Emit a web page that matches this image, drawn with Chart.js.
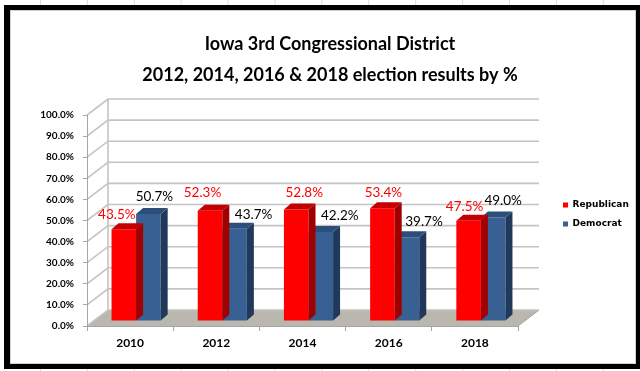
<!DOCTYPE html>
<html>
<head>
<meta charset="utf-8">
<script src="https://cdn.jsdelivr.net/npm/chart.js@4"></script>
<style>
  html, body { margin: 0; padding: 0; background: #fff; }
  canvas { display: block; }
</style>
</head>
<body>
<canvas id="chart" width="640" height="371"></canvas>
<script>
// data
const years = ['2010', '2012', '2014', '2016', '2018'];
const republican = [43.5, 52.3, 52.8, 53.4, 47.5];
const democrat = [50.7, 43.7, 42.2, 39.7, 49.0];
const seriesNames = ['Republican', 'Democrat'];
const titleLines = ['Iowa 3rd Congressional District', '2012, 2014, 2016 & 2018 election results by %'];
const yMax = 100;
const yStep = 10;

// fake 3d look
const WALL_DX = 21, WALL_DY = -16;   // back wall offset from front axis
const SHIFT_X = 6, SHIFT_Y = -5;     // bars sit a bit into the depth
const BAR_DX = 7, BAR_DY = -6;       // bar depth
const frontColors = ['#FF0000', '#386092'];
const topColors = ['#C40000', '#2B4E7A'];
const sideColors = ['#A00000', '#20395A'];
const labelColors = ['#FF0000', '#000000'];
// label nudges (px) from the top of each bar, as placed in the original
const labelNudge = [
  [[-7, -15], [-7.5, -18.5], [8, -17], [1, -16], [-4, -14]],
  [[6, -17], [19, -14], [19, -16], [17, -15.5], [10, -16.5]]
];

function poly(ctx, pts, fill) {
  ctx.beginPath();
  ctx.moveTo(pts[0][0], pts[0][1]);
  for (let i = 1; i < pts.length; i++) ctx.lineTo(pts[i][0], pts[i][1]);
  ctx.closePath();
  ctx.fillStyle = fill;
  ctx.fill();
}

const threeD = {
  id: 'threeD',
  beforeLayout(chart) {
    const lg = chart.legend;
    if (lg && !lg._fixed) {
      const fit = lg.fit;
      lg.fit = function() { fit.call(this); this.width = 122; };
      lg._fixed = true;
    }
  },
  afterLayout(chart) {
    const lg = chart.legend;
    lg.left = 553; lg.right = 640;
    lg.top = 190.5; lg.bottom = 326;
  },
  beforeDraw(chart) {
    const ctx = chart.ctx;
    const y = chart.scales.y;
    const area = chart.chartArea;
    ctx.save();
    // sheet grid lines outside the frame
    ctx.strokeStyle = '#D8DCE3';
    ctx.lineWidth = 1;
    for (let gx = 40.5; gx < 640; gx += 46.9) {
      ctx.beginPath(); ctx.moveTo(gx, 0); ctx.lineTo(gx, 371); ctx.stroke();
    }
    // frame
    ctx.fillStyle = '#000';
    ctx.fillRect(4, 5, 640, 364);
    ctx.fillStyle = '#fff';
    ctx.fillRect(10, 10, 626, 354);
    ctx.strokeStyle = '#D0D0D0';
    ctx.strokeRect(10.5, 10.5, 625, 353);

    const y0 = y.getPixelForValue(0);
    const yTop = y.getPixelForValue(yMax);
    const L = area.left, R = area.right;

    // floor
    poly(ctx, [[L, y0], [R, y0], [R + WALL_DX, y0 + WALL_DY], [L + WALL_DX, y0 + WALL_DY]], '#BAB7AF');
    ctx.strokeStyle = '#A4A19A';
    ctx.lineWidth = 1;
    ctx.beginPath();
    ctx.moveTo(R, y0); ctx.lineTo(R + WALL_DX, y0 + WALL_DY);
    ctx.stroke();

    // back wall and side wall grid lines
    ctx.strokeStyle = '#C4C4C4';
    ctx.lineWidth = 1.6;
    for (let v = 0; v <= yMax; v += yStep) {
      const py = y.getPixelForValue(v);
      ctx.beginPath();
      ctx.moveTo(L, py);
      ctx.lineTo(L + WALL_DX, py + WALL_DY);
      ctx.lineTo(R + WALL_DX, py + WALL_DY);
      ctx.stroke();
    }
    ctx.beginPath();
    ctx.moveTo(L + WALL_DX, yTop + WALL_DY);
    ctx.lineTo(L + WALL_DX, y0 + WALL_DY);
    ctx.stroke();
    ctx.restore();
  },
  beforeDatasetsDraw(chart) {
    chart.ctx.save();
    chart.ctx.translate(SHIFT_X, SHIFT_Y);
  },
  afterDatasetDraw(chart, args) {
    const ctx = chart.ctx;
    const i = args.index;
    chart.getDatasetMeta(i).data.forEach(bar => {
      const { x, y, base, width } = bar.getProps(['x', 'y', 'base', 'width'], true);
      const l = x - width / 2, r = x + width / 2;
      poly(ctx, [[r, y], [r + BAR_DX, y + BAR_DY], [r + BAR_DX, base + BAR_DY], [r, base]], sideColors[i]);
      poly(ctx, [[l, y], [l + BAR_DX, y + BAR_DY], [r + BAR_DX, y + BAR_DY], [r, y]], topColors[i]);
    });
  },
  afterDatasetsDraw(chart) {
    const ctx = chart.ctx;
    ctx.restore();
    ctx.save();
    ctx.font = '13.5px Lato';
    ctx.textAlign = 'center';
    ctx.textBaseline = 'middle';
    chart.data.datasets.forEach((ds, i) => {
      chart.getDatasetMeta(i).data.forEach((bar, j) => {
        const { x, y } = bar.getProps(['x', 'y'], true);
        const [nx, ny] = labelNudge[i][j];
        ctx.fillStyle = labelColors[i];
        ctx.fillText(ds.data[j].toFixed(1) + '%', x + SHIFT_X + nx, y + SHIFT_Y + ny);
      });
    });
    ctx.restore();
  }
};

Chart.defaults.font.family = 'Lato';
Chart.defaults.color = '#000';

new Chart(document.getElementById('chart'), {
  type: 'bar',
  data: {
    labels: years,
    datasets: [
      { label: seriesNames[0], data: republican, backgroundColor: frontColors[0], borderWidth: 0, clip: false },
      { label: seriesNames[1], data: democrat, backgroundColor: frontColors[1], borderWidth: 0, clip: false }
    ]
  },
  options: {
    responsive: false,
    devicePixelRatio: 1,
    animation: false,
    layout: { padding: { left: 20, right: 0, top: 0, bottom: 0 } },
    categoryPercentage: 0.57,
    barPercentage: 1.0,
    plugins: {
      title: {
        display: true,
        text: titleLines,
        color: '#000',
        font: { family: 'Lato', size: 18, weight: 'bold', lineHeight: '31px' },
        padding: { top: 28.5, bottom: 24.5 }
      },
      legend: {
        position: 'right',
        align: 'start',
        fullSize: false,
        labels: {
          boxWidth: 5,
          boxHeight: 5,
          padding: 10,
          color: '#000',
          font: { family: 'DejaVu Sans', size: 9, weight: 'bold' }
        }
      },
      tooltip: { enabled: false }
    },
    scales: {
      x: {
        afterFit(scale) { scale.height = 45; },
        grid: { display: true, drawOnChartArea: false, tickLength: 5, color: '#A6A6A6' },
        border: { display: true, color: '#A6A6A6' },
        ticks: { padding: 5, font: { size: 12, weight: 'bold' }, color: '#000' }
      },
      y: {
        min: 0,
        max: yMax,
        afterFit(scale) { scale.width = 67; },
        grid: { display: true, drawOnChartArea: false, tickLength: 4, color: '#A6A6A6' },
        border: { display: true, color: '#A6A6A6' },
        ticks: {
          stepSize: yStep,
          padding: 9,
          font: { size: 10, weight: 'bold' },
          color: '#000',
          callback: v => v.toFixed(1) + '%'
        }
      }
    }
  },
  plugins: [threeD]
});
</script>
</body>
</html>
